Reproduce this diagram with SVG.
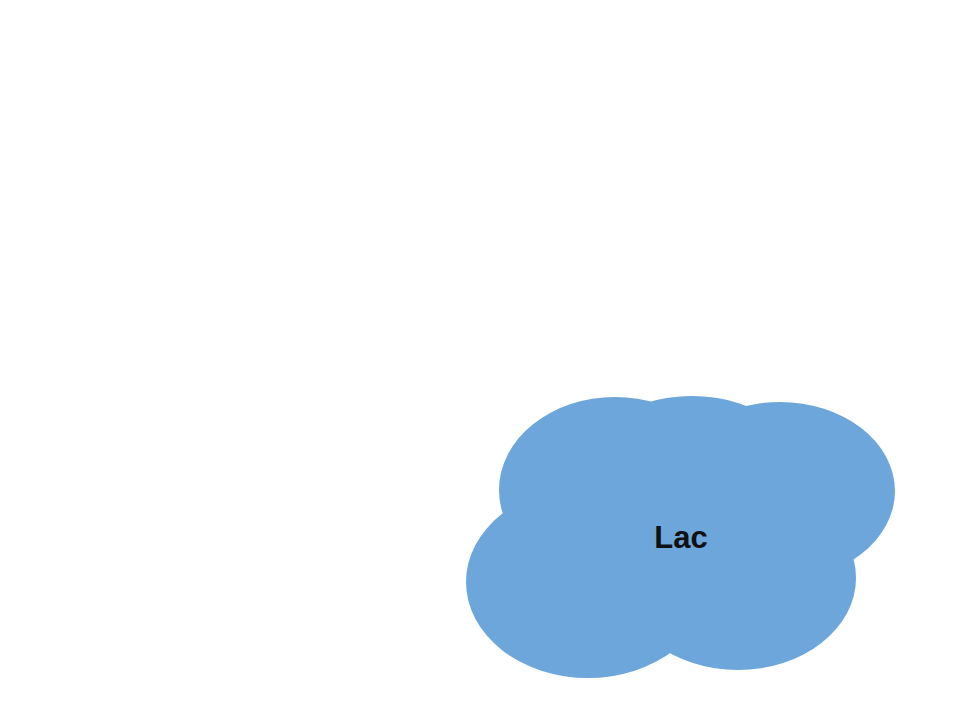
<svg xmlns="http://www.w3.org/2000/svg" width="960" height="720" viewBox="0 0 960 720">
<style>
.lake{fill:#6da6da;}
.lbl{font-family:"Liberation Sans",Arial,sans-serif;font-weight:bold;font-size:31px;fill:#111;text-anchor:middle;}
</style>
<rect width="960" height="720" fill="#ffffff"/>
<g id="lac">
<ellipse class="lake" cx="615" cy="490" rx="116" ry="93"/>
<ellipse class="lake" cx="692" cy="490" rx="122" ry="94"/>
<ellipse class="lake" cx="780" cy="491" rx="115" ry="89"/>
<ellipse class="lake" cx="588" cy="582" rx="122" ry="96"/>
<ellipse class="lake" cx="738" cy="578" rx="118" ry="92"/>
<text class="lbl" x="681" y="548">Lac</text>
</g>
</svg>
